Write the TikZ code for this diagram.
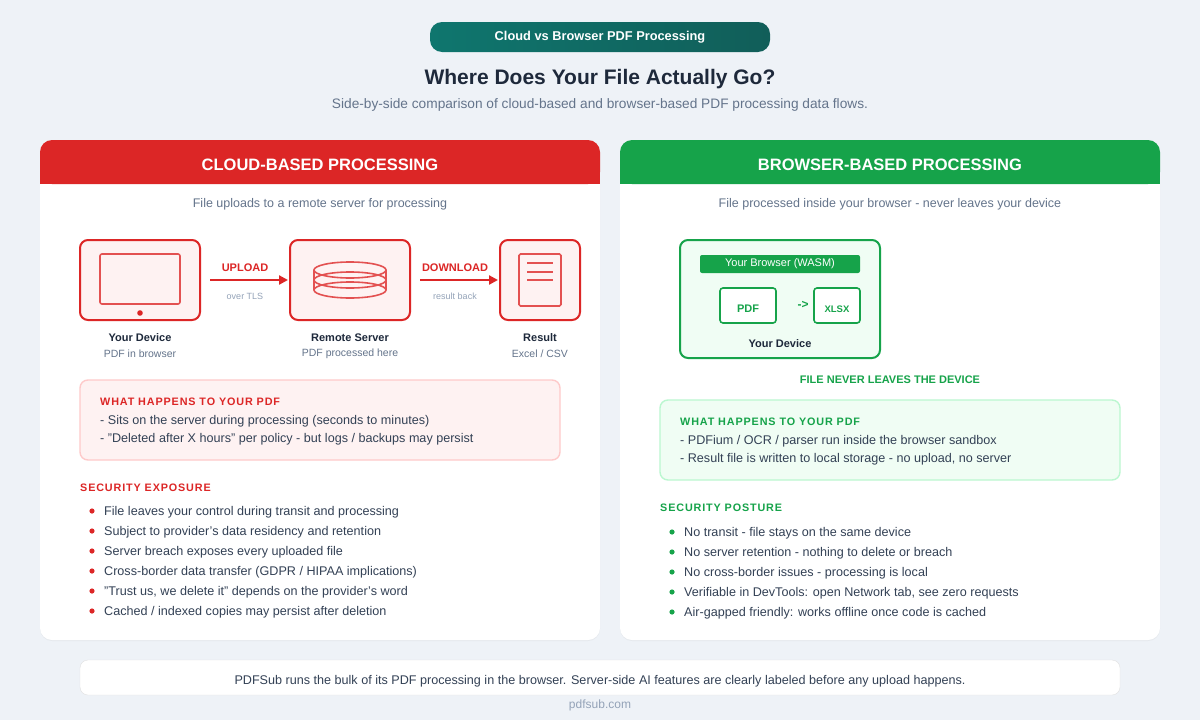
\documentclass[tikz,border=0pt]{standalone}
\usepackage{fontspec}
\setmainfont{Liberation Sans}
\newfontfamily\spaced{Liberation Sans}[LetterSpace=8]
\usetikzlibrary{arrows.meta,shadows}
\definecolor{bg}{HTML}{EEF2F7}
\definecolor{red}{HTML}{DC2626}
\definecolor{redl}{HTML}{FEF2F2}
\definecolor{redb}{HTML}{FECACA}
\definecolor{grn}{HTML}{16A34A}
\definecolor{grnl}{HTML}{F0FDF4}
\definecolor{grnb}{HTML}{BBF7D0}
\definecolor{ink}{HTML}{1E293B}
\definecolor{txt}{HTML}{334155}
\definecolor{mut}{HTML}{64748B}
\definecolor{lmut}{HTML}{94A3B8}
\definecolor{teal}{HTML}{0F766E}
\definecolor{teald}{HTML}{115E59}
\tikzset{
 fs/.style={font=\fontsize{#1}{#1}\selectfont},
 dn/.style={yshift=-1.5pt},
 card/.style={fill=white,rounded corners=12pt,draw=none,drop shadow={shadow xshift=0pt,shadow yshift=-1pt,opacity=0.08}},
 rbox/.style={draw=red,line width=2pt,fill=redl,rounded corners=8pt},
 gbox/.style={draw=grn,line width=1.6pt,fill=white,rounded corners=3pt},
 arr/.style={-{Triangle[length=9pt,width=9pt]},red,line width=2.2pt},
 lbl/.style={dn,font=\bfseries\fontsize{11}{11}\selectfont,text=ink},
 sub/.style={dn,fs=10.5,text=mut},
 body/.style={dn,fs=12.6,text=txt,anchor=west,inner sep=0pt},
 sec/.style={dn,anchor=west,inner sep=0pt,font=\spaced\bfseries\fontsize{10.8}{10.8}\selectfont},
 ico/.style={red!80,line width=1.6pt},
}
\begin{document}
\begin{tikzpicture}[x=1pt,y=-1pt]
\fill[bg] (0,0) rectangle (1200,720);
\useasboundingbox (0,0) rectangle (1200,720);
% title
\node[rounded corners=12pt,minimum width=340pt,minimum height=30pt,text=white,font=\bfseries\fontsize{12.8}{12.8}\selectfont,left color=teal,right color=teald] (pill) at (600,37) {Cloud vs Browser PDF Processing};
\node[dn,font=\bfseries\fontsize{21}{21}\selectfont,text=ink] (head) at (600,78) {Where Does Your File Actually Go?};
\node[dn,fs=13.7,text=mut] (subh) at (600,103) {Side-by-side comparison of cloud-based and browser-based PDF processing data flows.};
% cards
\fill[card] (40,140) rectangle (600,640);
\fill[card] (620,140) rectangle (1160,640);
\fill[red,rounded corners=12pt] (40,140) rectangle (600,184);
\fill[red] (40,170) rectangle (600,184);
\fill[grn,rounded corners=12pt] (620,140) rectangle (1160,184);
\fill[grn] (620,170) rectangle (1160,184);
\node[dn,text=white,font=\bfseries\fontsize{16.5}{16.5}\selectfont] (lh) at (320,163) {CLOUD-BASED PROCESSING};
\node[dn,text=white,font=\bfseries\fontsize{16.5}{16.5}\selectfont] (rh) at (890,163) {BROWSER-BASED PROCESSING};
\node[dn,fs=12.5,text=mut] (ls) at (320,203) {File uploads to a remote server for processing};
\node[dn,fs=12.5,text=mut] (rs) at (890,203) {File processed inside your browser - never leaves your device};
% left flow
\draw[rbox] (80,240) rectangle (200,320); \coordinate (dev) at (140,280);
\draw[ico,rounded corners=2pt] (100,254) rectangle (180,304);
\fill[red] (140,313) circle (2.8pt);
\draw[rbox] (290,240) rectangle (410,320); \coordinate (srv) at (350,280);
\begin{scope}[ico]
\draw (350,270) ellipse (36pt and 8pt);
\draw (350,280) ellipse (36pt and 8pt);
\draw (350,290) ellipse (36pt and 8pt);
\draw (314,270) -- (314,290) (386,270) -- (386,290);
\end{scope}
\draw[rbox] (500,240) rectangle (580,320); \coordinate (res) at (540,280);
\draw[ico,rounded corners=1.5pt] (519,254) rectangle (561,306);
\draw[ico] (527,263)--(553,263) (527,272)--(553,272) (527,280)--(553,280);
\coordinate (a1) at (210,280); \coordinate (a2) at (288,280);
\coordinate (b1) at (420,280); \coordinate (b2) at (498,280);
\draw[arr] (a1) -- (a2);
\draw[arr] (b1) -- (b2);
\node[dn,text=red,font=\bfseries\fontsize{11}{11}\selectfont] (up) at (245,266) {UPLOAD};
\node[dn,fs=9,text=lmut] (tls) at (245,295) {over TLS};
\node[dn,text=red,font=\bfseries\fontsize{11}{11}\selectfont] (dnl) at (455,266) {DOWNLOAD};
\node[dn,fs=9,text=lmut] (rb) at (455,295) {result back};
\node[lbl] at (140,336) {Your Device}; \node[sub] at (140,352) {PDF in browser};
\node[lbl] at (350,336) {Remote Server}; \node[sub] at (350,352) {PDF processed here};
\node[lbl] at (540,336) {Result}; \node[sub] at (540,352) {Excel / CSV};
% left what happens
\draw[fill=redl,draw=redb,line width=1.4pt,rounded corners=8pt] (80,380) rectangle (560,460);
\node[sec,text=red] at (100,400) {WHAT HAPPENS TO YOUR PDF};
\node[body] at (100,420) {- Sits on the server during processing (seconds to minutes)};
\node[body] at (100,438) {- "Deleted after X hours" per policy - but logs / backups may persist};
\node[sec,text=red] at (80,486) {SECURITY EXPOSURE};
\foreach \t [count=\i] in {File leaves your control during transit and processing,Subject to provider's data residency and retention,Server breach exposes every uploaded file,Cross-border data transfer (GDPR / HIPAA implications),"Trust us{,} we delete it" depends on the provider's word,Cached / indexed copies may persist after deletion}{
 \fill[red] (92,{491+20*\i}) circle (2.6pt);
 \node[body] at (104,{491+20*\i}) {\t};
}
% right
\draw[draw=grn,line width=2pt,fill=grnl,rounded corners=8pt] (680,240) rectangle (880,358);
\node[fill=grn,rounded corners=2pt,minimum width=160pt,minimum height=18pt,inner sep=0pt,text=white,font=\fontsize{11}{11}\selectfont] (wasm) at (780,264) {Your Browser (WASM)};
\draw[gbox] (720,288) rectangle (776,323);
\node[dn,text=grn,font=\bfseries\fontsize{11}{11}\selectfont] (pdf) at (748,307) {PDF};
\draw[gbox] (814,288) rectangle (860,323);
\node[dn,text=grn,font=\bfseries\fontsize{9.5}{9.5}\selectfont] (xl) at (837,308) {XLSX};
\node[dn,text=grn,font=\bfseries\fontsize{12}{12}\selectfont] (ar) at (803,303) {->};
\node[lbl] at (780,342) {Your Device};
\node[dn,text=grn,font=\bfseries\fontsize{11}{11}\selectfont] at (890,378) {FILE NEVER LEAVES THE DEVICE};
\draw[fill=grnl,draw=grnb,line width=1.4pt,rounded corners=8pt] (660,400) rectangle (1120,480);
\node[sec,text=grn] at (680,420) {WHAT HAPPENS TO YOUR PDF};
\node[body] at (680,440) {- PDFium / OCR / parser run inside the browser sandbox};
\node[body] at (680,458) {- Result file is written to local storage - no upload, no server};
\node[sec,text=grn] at (660,506) {SECURITY POSTURE};
\foreach \t [count=\i] in {No transit - file stays on the same device,No server retention - nothing to delete or breach,No cross-border issues - processing is local,Verifiable in DevTools: open Network tab{,} see zero requests,Air-gapped friendly: works offline once code is cached}{
 \fill[grn] (672,{512+20*\i}) circle (2.6pt);
 \node[body] at (684,{512+20*\i}) {\t};
}
% footer
\draw[fill=white,draw=black!12,rounded corners=8pt] (80,660) rectangle (1120,695);
\node[dn,fs=12.6,text=txt] (ft) at (600,680) {PDFSub runs the bulk of its PDF processing in the browser. Server-side AI features are clearly labeled before any upload happens.};
\node[dn,fs=12,text=lmut] (url) at (600,704) {pdfsub.com};
\end{tikzpicture}
\end{document}
